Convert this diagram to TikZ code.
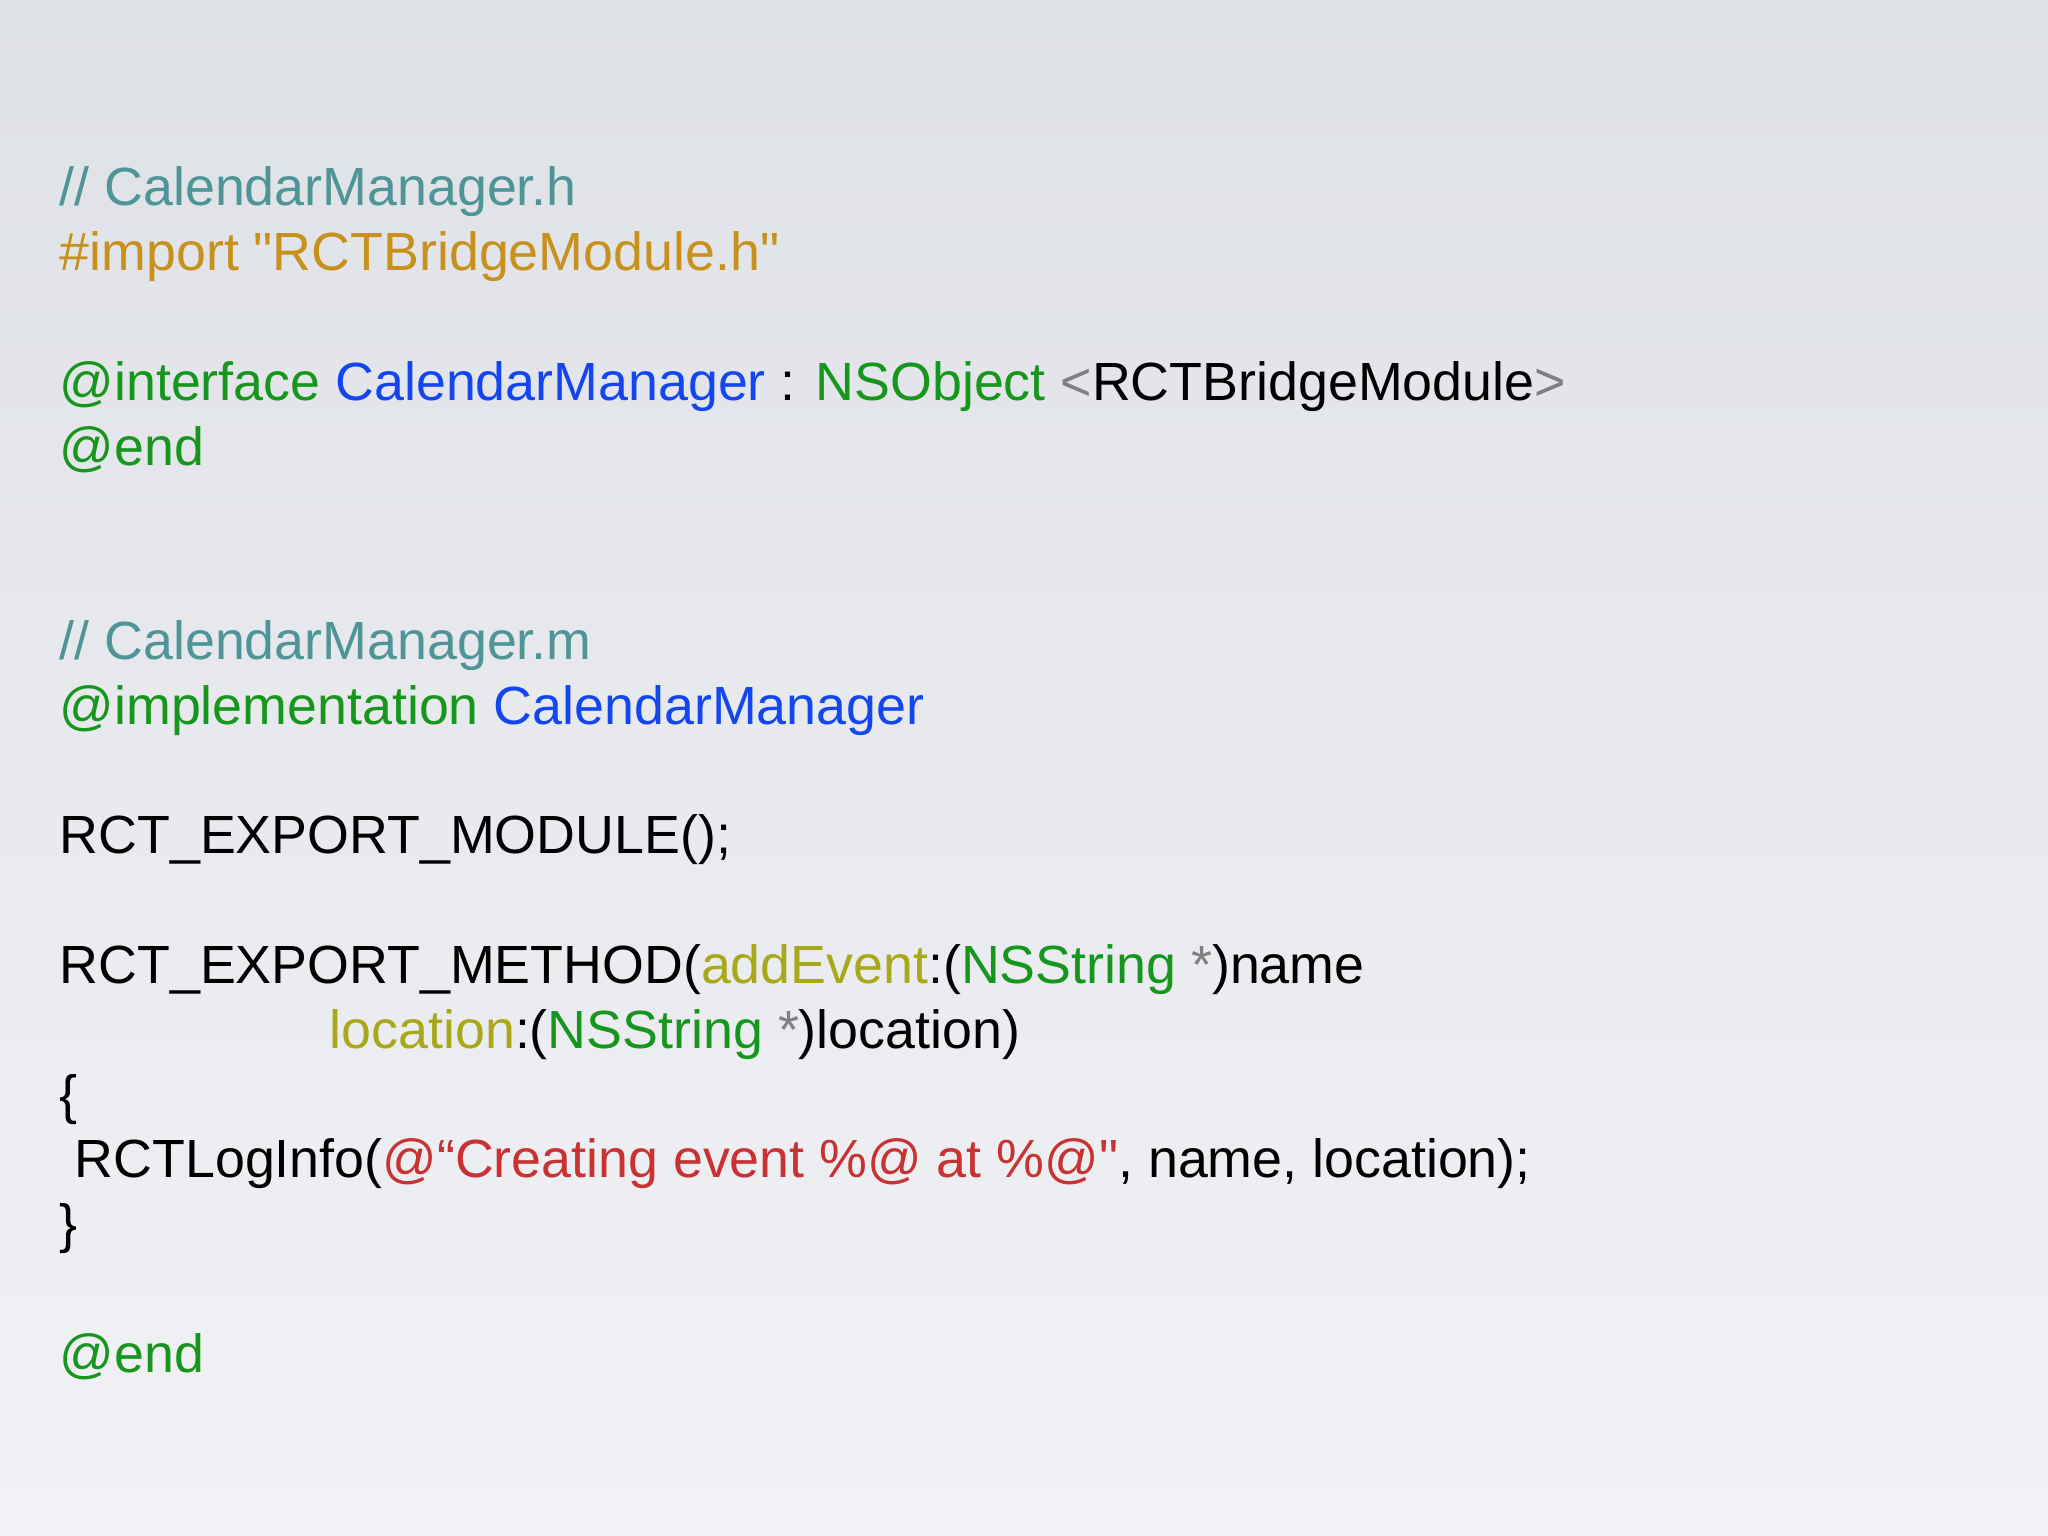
\documentclass[tikz,border=0pt]{standalone}
\usepackage{fontspec}
\setmainfont{Liberation Sans}[Ligatures=TeXOff]
\definecolor{cmt}{HTML}{4F9496}
\definecolor{imp}{HTML}{C8901C}
\definecolor{kw}{HTML}{16961C}
\definecolor{cls}{HTML}{1446F0}
\definecolor{gr}{HTML}{808080}
\definecolor{ol}{HTML}{A8A81A}
\definecolor{rd}{HTML}{C83232}
\begin{document}
\begin{tikzpicture}[code/.style={anchor=base west,inner sep=0,font=\fontsize{15.3}{18}\selectfont}]
\shade[top color={rgb,255:red,222;green,225;blue,230},bottom color={rgb,255:red,242;green,242;blue,246}] (0,0) rectangle (20.48,15.36);
\useasboundingbox (0,0) rectangle (20.48,15.36);
\def\L#1{13.30-#1*0.648}
\node[code] (l0) at (0.59,{\L{0}}) {\color{cmt}// CalendarManager.h};
\node[code] (l1) at (0.59,{\L{1}}) {\color{imp}\#import \char34 RCTBridgeModule.h\char34};
\node[code] (l3) at (0.59,{\L{3}}) {\color{kw}@interface \color{cls}CalendarManager \color{black}: \color{kw}NSObject \color{gr}<\color{black}RCTBridgeModule\color{gr}>};
\node[code] (l4) at (0.59,{\L{4}}) {\color{kw}@end};
\node[code] (l7) at (0.59,{\L{7}}) {\color{cmt}// CalendarManager.m};
\node[code] (l8) at (0.59,{\L{8}}) {\color{kw}@implementation \color{cls}CalendarManager};
\node[code] (l10) at (0.59,{\L{10}}) {RCT\_EXPORT\_MODULE();};
\node[code] (l12) at (0.59,{\L{12}}) {RCT\_EXPORT\_METHOD(\color{ol}addEvent\color{black}:(\color{kw}NSString \color{gr}*\color{black})name};
\node[code] (l13) at (3.29,{\L{13}}) {\color{ol}location\color{black}:(\color{kw}NSString \color{gr}*\color{black})location)};
\node[code] (l14) at (0.59,{\L{14}}) {\{};
\node[code] (l15) at (0.74,{\L{15}}) {RCTLogInfo(\color{rd}@“Creating event \%@ at \%@\char34\color{black}, name, location);};
\node[code] (l16) at (0.59,{\L{16}}) {\}};
\node[code] (l18) at (0.59,{\L{18}}) {\color{kw}@end};
\end{tikzpicture}
\end{document}
